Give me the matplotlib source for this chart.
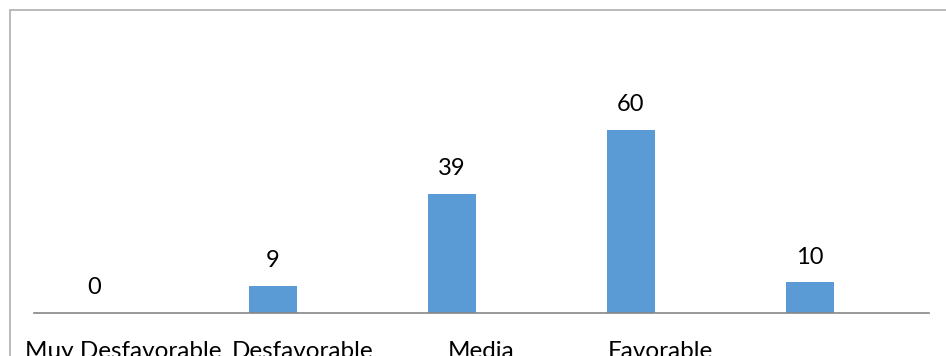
import matplotlib.pyplot as plt
import matplotlib.patches as mpatches
import numpy as np

# categories and counts
categorias = ['Muy Desfavorable', 'Desfavorable', 'Media', 'Favorable', '']
valores = [0, 9, 39, 60, 10]

W, H = 946, 356
fig = plt.figure(figsize=(W / 100, H / 100), dpi=100)
plt.rcParams['font.family'] = ['Lato', 'DejaVu Sans']

# plot area (baseline from x=34 to x=929, at y=313)
ax = fig.add_axes([34 / W, (H - 313) / H, (929 - 34) / W, 290 / H])

x = np.arange(len(categorias))
ax.bar(x - 0.166, valores, width=0.268, color='#5B9BD5', zorder=2)

for xi, v in zip(x, valores):
    ax.annotate('%d' % v, (xi - 0.166, v), xytext=(0, 18),
                textcoords='offset points', ha='center', va='center',
                fontsize=17, color='#000000')

ax.set_xlim(-0.5, 4.5)
ax.set_ylim(0, 95)
ax.set_xticks(x)
ax.set_xticklabels(categorias, fontsize=17.5)
ax.tick_params(axis='x', length=0, pad=20)
ax.set_yticks([])
for s in ['top', 'right', 'left']:
    ax.spines[s].set_visible(False)
ax.spines['bottom'].set_color('#868686')
ax.spines['bottom'].set_linewidth(1.2)

# outer chart frame (cut off at right and bottom)
frame = mpatches.Rectangle((9.5 / W, -0.2), 1.5, 1.2 - 9.5 / H,
                           transform=fig.transFigure, fill=False,
                           edgecolor='#b4b4b4', linewidth=1.3)
fig.patches.append(frame)

fig.savefig('out.png', dpi=100)
